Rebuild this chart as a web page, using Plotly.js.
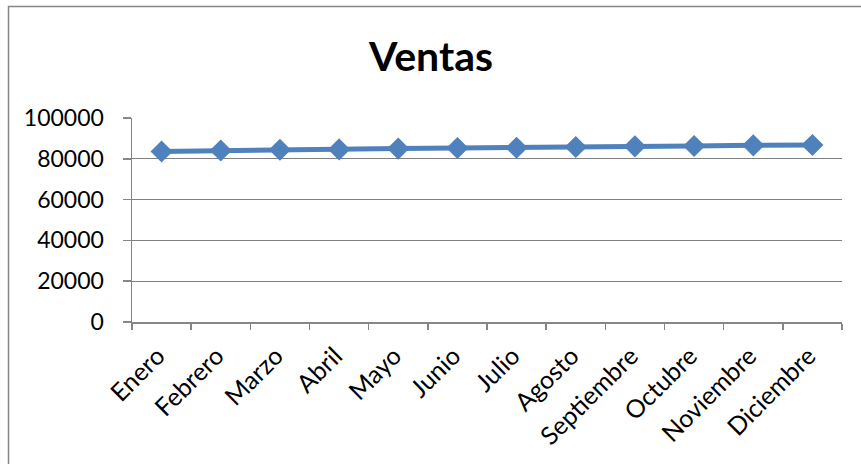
<!DOCTYPE html>
<html>
<head>
<meta charset="utf-8">
<script src="https://cdn.plot.ly/plotly-3.0.1.min.js"></script>
<style>
html,body{margin:0;padding:0;background:#fff;}
#chart{width:861px;height:464px;}
</style>
</head>
<body>
<div id="chart"></div>
<script>
const meses = ["Enero","Febrero","Marzo","Abril","Mayo","Junio","Julio","Agosto","Septiembre","Octubre","Noviembre","Diciembre"];
const ventas = [83600, 84100, 84400, 84600, 85000, 85300, 85400, 85800, 86100, 86300, 86600, 86800];
const yTicks = [0, 20000, 40000, 60000, 80000, 100000];

const W = 861, H = 464;
const mL = 132, mR = 19, mT = 118, mB = 142;
const pw = W - mL - mR, ph = H - mT - mB;
const gray = "#868686";

const trace = {
  x: meses,
  y: ventas,
  type: "scatter",
  mode: "lines+markers",
  line: {color: "#4F81BD", width: 5},
  marker: {symbol: "diamond", size: 17, color: "#4F81BD"},
  hoverinfo: "skip"
};

const layout = {
  width: W, height: H,
  margin: {l: mL, r: mR, t: mT, b: mB, pad: 0},
  paper_bgcolor: "#fff",
  plot_bgcolor: "#fff",
  showlegend: false,
  font: {family: "Lato, 'Open Sans', sans-serif", color: "#000", size: 23},
  title: {
    text: "<b>Ventas</b>",
    font: {family: "Lato, 'Open Sans', sans-serif", size: 41, color: "#000"},
    x: 431 / W, xref: "container", xanchor: "center",
    y: 1 - 57/H, yref: "container", yanchor: "middle"
  },
  xaxis: {
    type: "category",
    range: [-0.5, 11.5],
    tickson: "boundaries",
    ticks: "outside",
    ticklen: 6,
    tickwidth: 1.5,
    tickcolor: gray,
    showline: true,
    linecolor: gray,
    linewidth: 1.5,
    showgrid: false,
    zeroline: false,
    tickangle: -45,
    automargin: false,
    ticklabelstandoff: 8,
    ticklabelshift: -4,
    tickfont: {size: 25}
  },
  yaxis: {
    range: [0, 100000],
    tickvals: yTicks,
    ticktext: yTicks.map(String),
    ticks: "outside",
    ticklen: 8,
    tickwidth: 1.5,
    tickcolor: gray,
    showline: true,
    linecolor: gray,
    linewidth: 1.5,
    showgrid: true,
    gridcolor: "#808080",
    gridwidth: 1,
    zeroline: false,
    automargin: false,
    ticklabelstandoff: 14,
    tickfont: {size: 23}
  },
  shapes: [{
    type: "rect",
    xref: "paper", yref: "paper",
    x0: (8.5 - mL) / pw, x1: 2,
    y0: -2, y1: 1 + (mT - 6.5) / ph,
    line: {color: gray, width: 1.5},
    fillcolor: "rgba(0,0,0,0)",
    layer: "below"
  }]
};

Plotly.newPlot("chart", [trace], layout, {staticPlot: true, displayModeBar: false});
</script>
</body>
</html>
